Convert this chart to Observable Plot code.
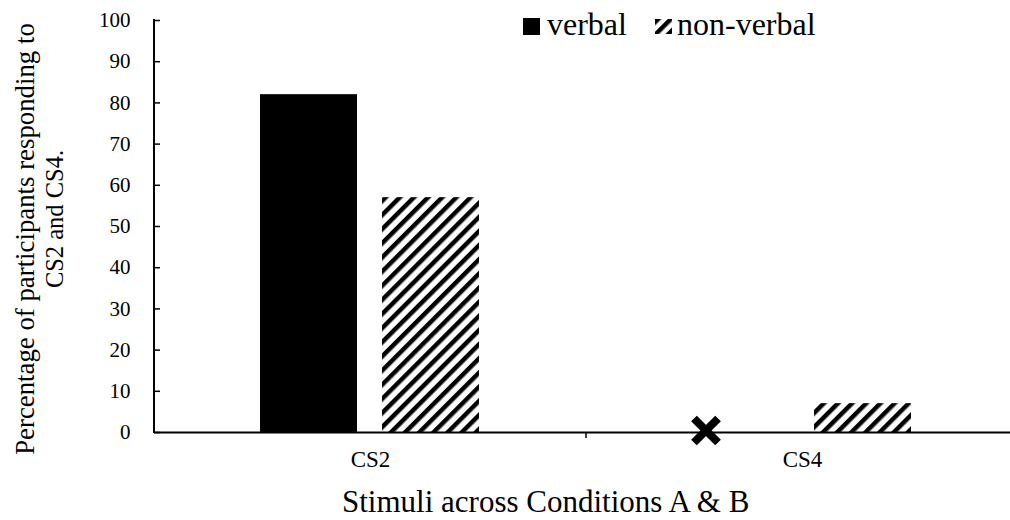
<!DOCTYPE html>
<html>
<head>
<meta charset="utf-8">
<script src="https://cdn.jsdelivr.net/npm/d3@7"></script>
<script src="https://cdn.jsdelivr.net/npm/@observablehq/plot@0.6"></script>
<style>
  body { margin: 0; background: #fff; }
  #wrap { position: relative; width: 1010px; height: 520px; font-family: "Liberation Serif", "Times New Roman", serif; color: #000; overflow: hidden; }
  .abs { position: absolute; white-space: nowrap; line-height: 1; }
</style>
</head>
<body>
<div id="wrap"></div>
<script>
// ---- data ----
const categories = ["CS2", "CS4"];
const series = ["verbal", "non-verbal"];
const verbalValues = [82, 0];
const nonVerbalValues = [57, 7];
const missingMarks = [{category: "CS4", series: "verbal", value: 0}];
const yTicks = [0, 10, 20, 30, 40, 50, 60, 70, 80, 90, 100];
const xTitle = "Stimuli across Conditions A & B";
const yTitleLines = ["Percentage of participants responding to", "CS2 and CS4."];

const data = categories.flatMap((c, i) => [
  {category: c, series: series[0], value: verbalValues[i]},
  {category: c, series: series[1], value: nonVerbalValues[i]}
]);

const serif = "'Liberation Serif', 'Times New Roman', serif";
const wrap = document.getElementById("wrap");

const chart = Plot.plot({
  width: 1010,
  height: 520,
  marginLeft: 154,
  marginRight: -8,
  marginTop: 20,
  marginBottom: 88,
  style: {fontFamily: serif, color: "#000", background: "transparent", overflow: "visible"},
  fx: {domain: categories, padding: 0, label: null},
  x: {domain: series, paddingInner: 0.203, paddingOuter: 0.862, axis: null},
  y: {domain: [0, 100], label: null},
  color: {domain: series, range: ["#000", "url(#hatch)"]},
  marks: [
    Plot.barY(data, {fx: "category", x: "series", y: "value", fill: "series"}),
    Plot.ruleY([0], {stroke: "#000", strokeWidth: 2}),
    Plot.axisY({ticks: yTicks, tickSize: -6, tickPadding: 30, fontSize: 21, fontFamily: serif, fill: "#000", strokeWidth: 1.5, label: null}),
    Plot.axisFx({anchor: "bottom", tickSize: 0, tickPadding: 18, fontSize: 23, fontFamily: serif, fill: "#000", label: null}),
    Plot.dot(missingMarks, {fx: "category", x: "series", y: "value", symbol: "times", r: 11, stroke: "#000", strokeWidth: 8, dx: -35, dy: -2})
  ]
});

// hatch pattern definition
d3.select(chart).insert("defs", ":first-child").html(
  '<pattern id="hatch" patternUnits="userSpaceOnUse" width="10" height="10" patternTransform="rotate(45)">' +
  '<rect width="10" height="10" fill="#fff"/><rect x="0" y="0" width="4.5" height="10" fill="#000"/></pattern>'
);

// y axis line and category boundary tick, from the plot's own scales
const fxS = chart.scale("fx"), yS = chart.scale("y");
const xLeft = fxS.apply(categories[0]);
const xBoundary = fxS.apply(categories[1]);
const g = d3.select(chart).append("g").attr("stroke", "#000");
g.append("line").attr("x1", xLeft).attr("x2", xLeft).attr("y1", yS.apply(100) - 1).attr("y2", yS.apply(0) + 1).attr("stroke-width", 2);
g.append("line").attr("x1", xBoundary).attr("x2", xBoundary).attr("y1", yS.apply(0)).attr("y2", yS.apply(0) + 6).attr("stroke-width", 1.5);

wrap.appendChild(chart);
chart.style.position = "absolute";
chart.style.left = "0px";
chart.style.top = "0px";

// legend
const legend = document.createElement("div");
legend.innerHTML =
  '<svg class="abs" style="left:523px;top:18px" width="17" height="17"><rect width="17" height="17" fill="#000"/></svg>' +
  '<div class="abs" style="left:547px;top:8px;font-size:32px">' + series[0] + '</div>' +
  '<svg class="abs" style="left:655px;top:19px" width="17" height="15"><defs><pattern id="hatchL" patternUnits="userSpaceOnUse" width="9" height="9" patternTransform="rotate(45)"><rect width="9" height="9" fill="#fff"/><rect width="4.5" height="9" fill="#000"/></pattern></defs><rect width="17" height="15" fill="url(#hatchL)"/></svg>' +
  '<div class="abs" style="left:677px;top:8px;font-size:32px">' + series[1] + '</div>';
wrap.appendChild(legend);

// axis titles
const xt = document.createElement("div");
xt.className = "abs";
xt.style.cssText = "left:342px;top:486px;font-size:31px";
xt.textContent = xTitle;
wrap.appendChild(xt);

const yTitleStyle = [[25, 239, 26.8], [55, 219, 24.5]];
yTitleLines.forEach((t, i) => {
  const d = document.createElement("div");
  d.className = "abs";
  const [cx, cy, fs] = yTitleStyle[i];
  d.style.cssText = `left:${cx}px;top:${cy}px;font-size:${fs}px;transform:translate(-50%,-50%) rotate(-90deg);`;
  d.textContent = t;
  wrap.appendChild(d);
});
</script>
</body>
</html>
